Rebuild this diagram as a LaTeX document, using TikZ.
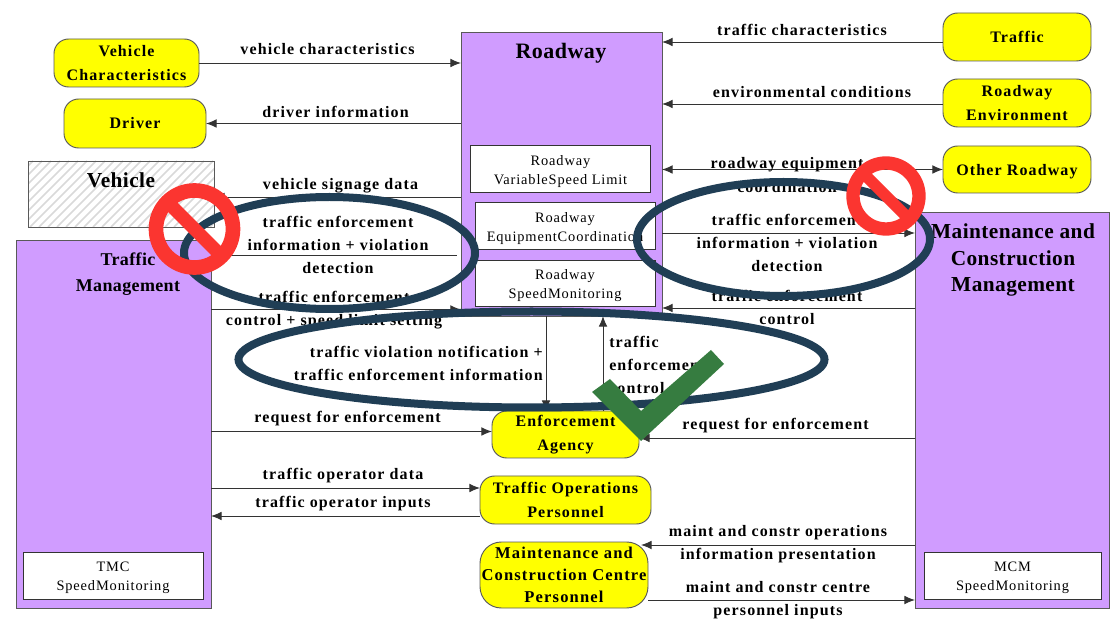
\documentclass[tikz,border=0pt]{standalone}
\usepackage{fontspec}
\setmainfont{Liberation Serif}
\newfontfamily\lblfont[LetterSpace=7]{Liberation Serif Bold}
\newfontfamily\ttlfont[LetterSpace=2]{Liberation Serif Bold}
\newfontfamily\subfont[LetterSpace=6]{Liberation Serif}
\usetikzlibrary{arrows.meta}
\newcommand\upx{*0.75pt}
\newcommand\subshift[1]{\raisebox{-4.6pt}[0pt][0pt]{\parbox{130pt}{\centering #1}}}
\definecolor{lilac}{HTML}{D09CFF}
\definecolor{oval}{HTML}{203E55}
\definecolor{stopred}{HTML}{FB3530}
\definecolor{okgreen}{HTML}{367C40}
\definecolor{pureyellow}{HTML}{FFFF00}
\tikzset{
  x=0.75pt,y=-0.75pt,
  conn/.style={draw=black!80!white,line width=0.7pt,-{Latex[length=8pt,width=6.5pt]}},
  plainconn/.style={draw=black!80!white,line width=0.7pt},
  both/.style={conn,{Latex[length=8pt,width=6.5pt]}-{Latex[length=8pt,width=6.5pt]}},
  pill/.style={draw=black!65,line width=0.7pt,fill=pureyellow,rounded corners=11pt,inner sep=0pt,outer sep=0pt,align=center,font=\lblfont\fontsize{12}{17.5}\selectfont},
  panel/.style={draw=black!65,line width=0.7pt,fill=lilac,inner sep=0pt,outer sep=0pt},
  subbox/.style={draw=black!80,line width=0.7pt,fill=white,inner sep=0pt,align=center,font=\subfont\fontsize{10.8}{14.2}\selectfont},
  lbl/.style={inner sep=0pt,align=center,font=\lblfont\fontsize{12}{17.3}\selectfont},
  ttl/.style={inner sep=0pt,align=center,font=\ttlfont\fontsize{15}{19.8}\selectfont},
  ring/.style={draw=oval,line width=6pt,fill=none},
  stopring/.style={draw=stopred,fill=none},
}
\begin{document}
\begin{tikzpicture}
\useasboundingbox (0,0) rectangle (1115,620);
\fill[white] (0,0) rectangle (1115,620);
% panels
\node[panel,minimum width=201\upx,minimum height=284\upx] (rw) at (561.5,174) {};
\node[panel,minimum width=195\upx,minimum height=368\upx] (tm) at (113.5,424) {};
\node[panel,minimum width=194\upx,minimum height=396\upx] (mc) at (1012,410) {};
% hatched vehicle
\node[draw=none,fill=white,minimum width=186\upx,minimum height=66\upx,inner sep=0pt,outer sep=0pt] (veh) at (121,194) {};
\begin{scope}
\clip (veh.south west) rectangle (veh.north east);
\foreach \k in {-60,-51,...,220} {\draw[black!15,line width=1.3pt] (\k,227) -- (\k+66,161);}
\end{scope}
\node[draw=black!65,line width=0.7pt,minimum width=186\upx,minimum height=66\upx,inner sep=0pt] (vehframe) at (veh) {};
\node[ttl,font=\ttlfont\fontsize{16}{18}\selectfont] (vehtxt) at (121,180) {Vehicle};
% titles
\node[ttl,font=\ttlfont\fontsize{16.5}{18}\selectfont] (rwtxt) at (561,53.5) {Roadway};
\node[ttl,font=\ttlfont\fontsize{13.5}{19.5}\selectfont] (tmtxt) at (128,274) {Traffic\\Management};
\node[ttl,font=\ttlfont\fontsize{16}{19.8}\selectfont] (mctxt) at (1013,260) {Maintenance and\\Construction\\Management};
% sub boxes
\node[subbox,minimum width=180\upx,minimum height=47\upx] (s1) at (560.5,169) {\subshift{Roadway\\VariableSpeed Limit}};
\node[subbox,minimum width=180\upx,minimum height=47\upx] (s2) at (565,226) {\subshift{Roadway\\EquipmentCoordination}};
\node[subbox,minimum width=180\upx,minimum height=46\upx] (s3) at (565,283) {\subshift{Roadway\\SpeedMonitoring}};
\node[subbox,minimum width=180\upx,minimum height=47\upx] (s4) at (113,575.5) {\subshift{TMC\\SpeedMonitoring}};
\node[subbox,minimum width=177\upx,minimum height=47\upx] (s5) at (1012.5,575.5) {\subshift{MCM\\SpeedMonitoring}};
% pills
\node[pill,minimum width=145\upx,minimum height=48\upx] (vc) at (126.5,63) {Vehicle\\Characteristics};
\node[pill,minimum width=142\upx,minimum height=49\upx] (dr) at (135,123.5) {Driver};
\node[pill,minimum width=148\upx,minimum height=48\upx] (tf) at (1017,37) {Traffic};
\node[pill,minimum width=148\upx,minimum height=48\upx] (re) at (1017,103) {Roadway\\Environment};
\node[pill,minimum width=148\upx,minimum height=47\upx,text depth=0pt] (or) at (1017,169.5) {Other Roadway};
\node[pill,minimum width=147\upx,minimum height=47\upx] (ea) at (565.5,434.5) {Enforcement\\Agency};
\node[pill,minimum width=171\upx,minimum height=48\upx] (to) at (565.5,500) {Traffic Operations\\Personnel};
\node[pill,minimum width=168\upx,minimum height=66\upx,rounded corners=16pt,font=\lblfont\fontsize{12.4}{16.7}\selectfont] (mp) at (564,575) {Maintenance and\\Construction Centre\\Personnel};
% connectors
\draw[conn] (vc.east) -- (rw.west |- vc.east);
\draw[conn] (rw.west |- dr.east) -- (dr.east);
\draw[conn] (rw.west |- 0,197) -- (veh.east |- 0,197);
\coordinate (infoend) at (457,255);
\draw[plainconn] (tm.east |- infoend) -- (infoend);
\draw[conn] (tm.east |- 0,309.5) -- (rw.west |- 0,309.5);
\draw[conn] (tf.west |- 0,42) -- (rw.east |- 0,42);
\draw[conn] (re.west |- 0,104) -- (rw.east |- 0,104);
\draw[both] (rw.east |- or.west) -- (or.west);
\draw[conn] (rw.east |- 0,233) -- (mc.west |- 0,233);
\draw[conn] (mc.west |- 0,308) -- (rw.east |- 0,308);
\draw[conn] (rw.south -| 546,0) -- (ea.north -| 546,0);
\draw[conn] (ea.north -| 603,0) -- (rw.south -| 603,0);
\draw[conn] (tm.east |- 0,431.5) -- (ea.west |- 0,431.5);
\draw[conn] (mc.west |- 0,438) -- (ea.east |- 0,438);
\draw[conn] (tm.east |- 0,488) -- (to.west |- 0,488);
\draw[conn] (to.west |- 0,516) -- (tm.east |- 0,516);
\draw[conn] (mc.west |- 0,545) -- (641,545);
\draw[conn] (648,600) -- (mc.west |- 0,600);
% labels
\node[lbl] (l1) at (327.5,49) {vehicle characteristics};
\node[lbl] (l2) at (335.5,112) {driver information};
\node[lbl] (l3) at (340.5,186) {vehicle signage data};
\node[lbl] (l4) at (338,245) {traffic enforcement\\information + violation\\detection};
\node[lbl] (l5) at (334,310.5) {traffic enforcement\\control + speed limit setting};
\node[lbl] (l6) at (802,30) {traffic characteristics};
\node[lbl] (l7) at (812,92) {environmental conditions};
\node[lbl] (l8) at (787,175) {roadway equipment\\coordination};
\node[lbl] (l9) at (787,243) {traffic enforcement\\information + violation\\detection};
\node[lbl] (l10) at (787,307) {traffic enforcement\\control};
\node[lbl,align=right,anchor=east] (l11) at (543,363.5) {traffic violation notification +\\traffic enforcement information};
\node[lbl,align=left,anchor=west] (l12) at (609,365) {traffic\\enforcement\\control};
\node[lbl] (l13) at (347.5,419) {request for enforcement};
\node[lbl] (l14) at (775.5,426) {request for enforcement};
\node[lbl] (l15) at (343,476) {traffic operator data};
\node[lbl] (l16) at (343,504) {traffic operator inputs};
\node[lbl] (l17) at (778,544.5) {maint and constr operations\\information presentation};
\node[lbl] (l18) at (778,600.5) {maint and constr centre\\personnel inputs};
% ellipses
\draw[ring] (329.5,253) ellipse [x radius=145.5,y radius=56];
\draw[ring] (783.5,239) ellipse [x radius=146.5,y radius=57];
\draw[ring] (531.5,359.5) ellipse [x radius=293,y radius=48];
% stop signs
\draw[stopring,line width=11pt] (194.5,229) circle (38.5);
\draw[stopred,line width=10pt] (167,201.5) -- (222,256.5);
\draw[stopring,line width=10pt] (886,196) circle (33);
\draw[stopred,line width=8.5pt] (862.5,172.5) -- (909.5,219.5);
% check
\fill[okgreen] (592,392) -- (610,379) -- (641,411) -- (711,350) -- (724,364) -- (641,441) -- cycle;
\end{tikzpicture}
\end{document}
